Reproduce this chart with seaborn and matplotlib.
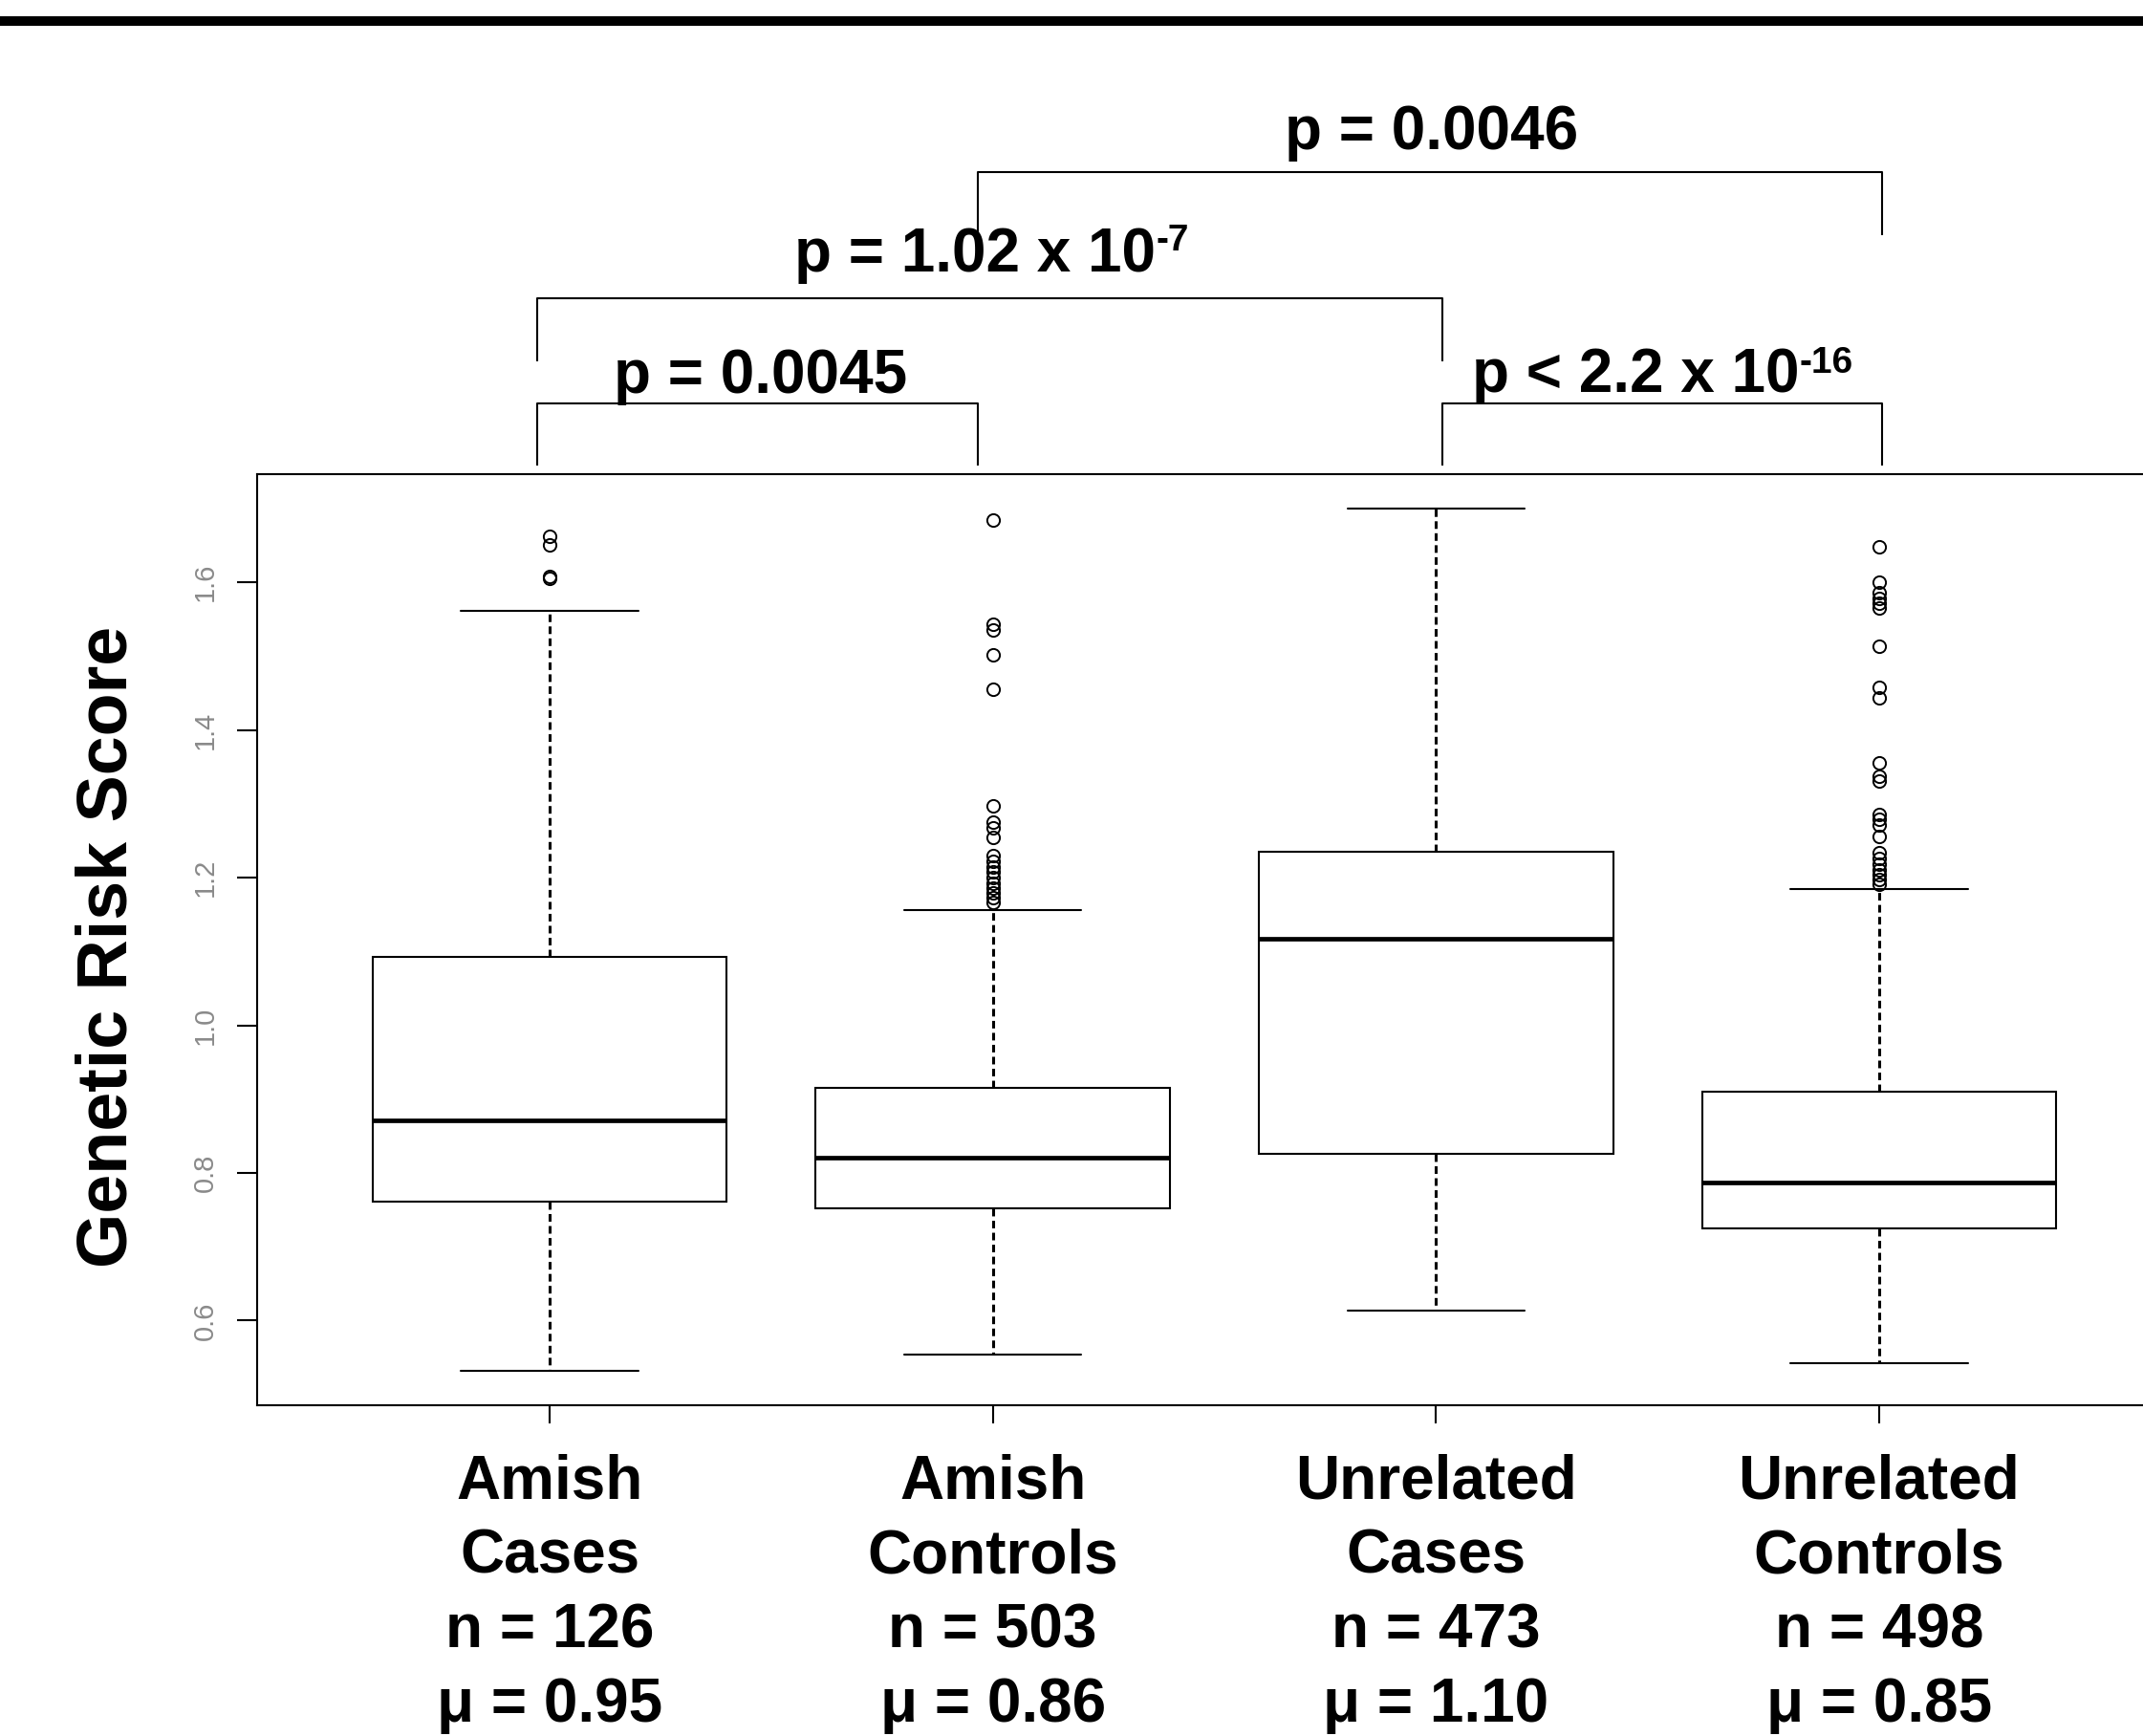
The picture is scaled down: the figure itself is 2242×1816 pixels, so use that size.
import numpy as np
import pandas as pd
import matplotlib
matplotlib.use("Agg")
import matplotlib.pyplot as plt
from matplotlib.patches import Rectangle
import seaborn as sns

# ---------------- data ----------------
groups = ["Amish Cases", "Amish Controls", "Unrelated Cases", "Unrelated Controls"]
label_top = ["Amish", "Amish", "Unrelated", "Unrelated"]
label_sub = ["Cases", "Controls", "Cases", "Controls"]
n_values = [126, 503, 473, 498]
mean_values = ["0.95", "0.86", "1.10", "0.85"]

# lower whisker, Q1, median, Q3, upper whisker
amish_cases_box = [0.532, 0.7615, 0.871, 1.0925, 1.562]
amish_controls_box = [0.554, 0.7525, 0.821, 0.915, 1.156]
unrelated_cases_box = [0.614, 0.826, 1.117, 1.2355, 1.700]
unrelated_controls_box = [0.5424, 0.7251, 0.7864, 0.910, 1.184]

amish_cases_out = [1.663, 1.651, 1.608, 1.606]
amish_controls_out = [1.685, 1.544, 1.535, 1.502, 1.455, 1.297, 1.275, 1.268,
                      1.255, 1.230, 1.222, 1.215, 1.208, 1.200, 1.193, 1.186,
                      1.180, 1.173, 1.167]
unrelated_cases_out = []
unrelated_controls_out = [1.648, 1.600, 1.586, 1.579, 1.572, 1.566, 1.513, 1.458,
                          1.444, 1.355, 1.337, 1.331, 1.286, 1.279, 1.272, 1.256,
                          1.234, 1.226, 1.218, 1.211, 1.204, 1.197, 1.191]

ytick_values = [0.6, 0.8, 1.0, 1.2, 1.4, 1.6]
ytick_labels = ["0.6", "0.8", "1.0", "1.2", "1.4", "1.6"]

comparisons = [(0, 1), (0, 2), (1, 3), (2, 3)]
p_main = ["p = 0.0045", "p = 1.02 x 10", "p = 0.0046", "p < 2.2 x 10"]
p_exp = ["", "-7", "", "-16"]


def build_values(box, outliers):
    """Long-form values whose quartiles / whiskers equal the read summary."""
    lw, q1, med, q3, uw = box
    lower = [lw] + [o for o in outliers if o < q1]
    upper = [uw] + [o for o in outliers if o > q3]
    k = max(len(lower), len(upper)) + 1
    vals = (lower + [q1] * (k - len(lower) + 1) + [med] * k
            + [q3] * (2 * k - len(upper)) + upper)
    return vals


boxes = [amish_cases_box, amish_controls_box, unrelated_cases_box, unrelated_controls_box]
outs = [amish_cases_out, amish_controls_out, unrelated_cases_out, unrelated_controls_out]
rows = []
for g, b, o in zip(groups, boxes, outs):
    for v in build_values(b, o):
        rows.append((g, v))
df = pd.DataFrame(rows, columns=["group", "score"])

# ---------------- styling ----------------
sns.set_style("ticks")
plt.rcParams["font.family"] = ["Liberation Sans", "DejaVu Sans"]
plt.rcParams["text.color"] = "black"
plt.rcParams["axes.labelcolor"] = "black"
plt.rcParams["xtick.color"] = "black"
plt.rcParams["ytick.color"] = "black"
plt.rcParams["axes.edgecolor"] = "black"

W, H = 2242, 1816
fig = plt.figure(figsize=(W / 100, H / 100), dpi=100)
ax = fig.add_axes([269 / W, 1 - 1470 / H, (2272 - 269) / W, 974 / H])

sns.boxplot(data=df, x="group", y="score", order=groups, ax=ax,
            width=0.8, color="white", linecolor="black", linewidth=1.5,
            saturation=1, whis=1.5, fliersize=9.5,
            medianprops=dict(linewidth=3.4, color="black"),
            whiskerprops=dict(linestyle=(0, (2.6, 1.5)), linewidth=2.2, color="black"),
            capprops=dict(color="black", linewidth=1.5),
            flierprops=dict(marker="o", markerfacecolor="none",
                            markeredgecolor="black", markeredgewidth=1.4))

allv = df["score"].values
lo, hi = allv.min(), allv.max()
pad = 0.04 * (hi - lo)
ax.set_ylim(lo - pad, hi + pad)
ax.set_xlim(-0.66, 3.66)

for s in ax.spines.values():
    s.set_visible(True)
    s.set_linewidth(1.5)
    s.set_color("black")

ax.set_yticks(ytick_values)
ax.set_yticklabels(ytick_labels, rotation=90, va="center", fontsize=21, color="#8a8a8a")
ax.tick_params(axis="y", length=15, width=1.5, pad=14, color="black")

xlabels = [f"{a}\n{b}\nn = {n}\nμ = {m}" for a, b, n, m in
           zip(label_top, label_sub, n_values, mean_values)]
ax.set_xticks(range(len(groups)))
ax.set_xticklabels(xlabels, fontsize=46, fontweight="bold", linespacing=1.385,
                   color="black")
ax.tick_params(axis="x", length=14, width=1.5, pad=22, color="black")
ax.set_xlabel("")

ax.set_ylabel("Genetic Risk Score", fontsize=53, fontweight="bold", color="black")
ax.yaxis.label.set_va("center")
ax.yaxis.set_label_coords(-0.078, 0.492)

# ---------------- significance brackets ----------------
leg_x = [-0.027, 0.966, 2.015, 3.007]
bracket_levels = {(0, 1): (1.7587, 1.8425), (2, 3): (1.7587, 1.8425),
                  (0, 2): (1.900, 1.985), (1, 3): (2.0709, 2.1556)}
text_pos = {(0, 1): (0.145, 1.857, None), (0, 2): (0.553, 2.0217, 2.050),
            (1, 3): (1.659, 2.1874, None), (2, 3): (2.082, 1.8575, 1.8834)}

for (a, b), main, ex in zip(comparisons, p_main, p_exp):
    yb, yt = bracket_levels[(a, b)]
    ax.plot([leg_x[a], leg_x[a], leg_x[b], leg_x[b]], [yb, yt, yt, yb],
            color="black", lw=1.5, clip_on=False, solid_capstyle="butt")
    tx, ty, sy = text_pos[(a, b)]
    t = ax.text(tx, ty, main, fontsize=46, fontweight="bold", ha="left",
                va="baseline", clip_on=False, color="black")
    if ex:
        ax.annotate(ex, xy=(1.0, sy), xycoords=(t, "data"), fontsize=28,
                    fontweight="bold", ha="left", va="baseline",
                    annotation_clip=False, color="black")

# top black rule
fig.add_artist(Rectangle((0, 1 - 27.3 / H), 1, 10 / H, transform=fig.transFigure,
                         color="black", lw=0))

fig.savefig("out.png", dpi=100)
